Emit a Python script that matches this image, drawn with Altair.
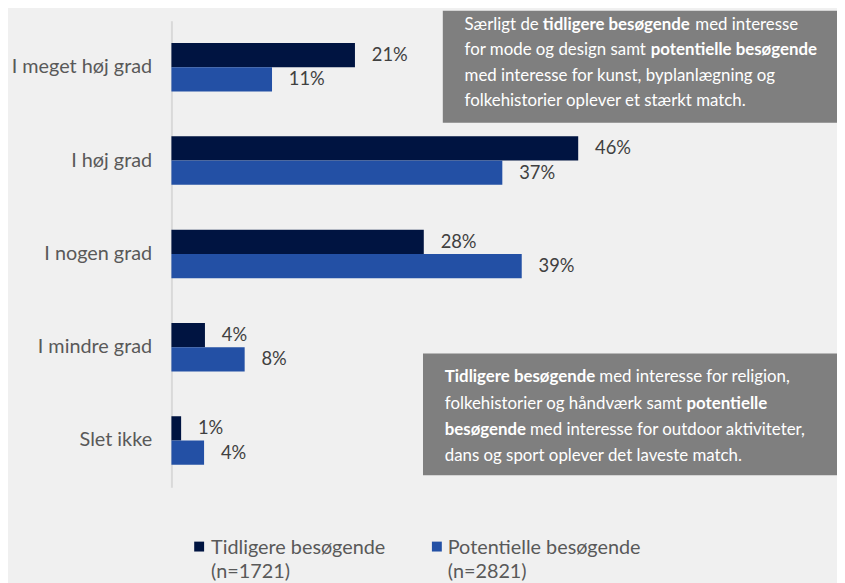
import altair as alt
import pandas as pd

categories = ["I meget høj grad", "I høj grad", "I nogen grad", "I mindre grad", "Slet ikke"]
series = ["Tidligere besøgende", "Potentielle besøgende"]
tidligere = [20.8, 46.1, 28.6, 3.8, 1.1]
potentielle = [11.4, 37.5, 39.7, 8.3, 3.7]
tidligere_labels = ["21%", "46%", "28%", "4%", "1%"]
potentielle_labels = ["11%", "37%", "39%", "8%", "4%"]
legend_n = ["(n=1721)", "(n=2821)"]
colors = ["#001441", "#2350A5"]

rows = []
for i, c in enumerate(categories):
    rows.append({"cat": c, "series": series[0], "value": tidligere[i], "label": tidligere_labels[i]})
    rows.append({"cat": c, "series": series[1], "value": potentielle[i], "label": potentielle_labels[i]})
df = pd.DataFrame(rows)

FONT = "Lato"
W, H = 441, 471
BOXFS = 17

y_enc = alt.Y("cat:N", sort=categories, title=None,
              scale=alt.Scale(paddingInner=0.48, paddingOuter=0.24),
              axis=alt.Axis(labelFont=FONT, labelFontSize=20, labelColor="#595959",
                            labelPadding=20, ticks=False, domainColor="#D9D9D9",
                            domainWidth=2, grid=False))
yoff = alt.YOffset("series:N", sort=series, scale=alt.Scale(paddingInner=0, paddingOuter=0))
x_enc = alt.X("value:Q", scale=alt.Scale(domain=[0, 49.5]), axis=None)
color_enc = alt.Color("series:N", sort=series, scale=alt.Scale(domain=series, range=colors), legend=None)

base = alt.Chart(df)
bars = base.mark_bar().encode(x=x_enc, y=y_enc, yOffset=yoff, color=color_enc)
labels = base.mark_text(align="left", baseline="middle", dx=17, font=FONT, fontSize=18.5,
                        color="#404040").encode(x=x_enc, y=y_enc, yOffset=yoff, text="label:N")

layers = [bars, labels]

# annotation boxes
box_df = pd.DataFrame({"a": [0]})
BOXC = "#7F7F7F"
box1 = alt.Chart(box_df).mark_rect(color=BOXC).encode(
    x=alt.value(274), x2=alt.value(672), y=alt.value(-10), y2=alt.value(103))
box2 = alt.Chart(box_df).mark_rect(color=BOXC).encode(
    x=alt.value(254), x2=alt.value(672), y=alt.value(336), y2=alt.value(459))
layers += [box1, box2]

def seg(text, x, y, bold=False):
    return alt.Chart(pd.DataFrame({"t": [text]})).mark_text(
        align="left", baseline="middle", font=FONT, fontSize=BOXFS,
        fontWeight="bold" if bold else "normal", color="white"
    ).encode(x=alt.value(x), y=alt.value(y), text="t:N")

# box 1 text
layers += [
    seg("Særligt de", 296, 4),
    seg("tidligere besøgende", 375, 4, True),
    seg("med interesse", 529, 4),
    seg("for mode og design samt", 296, 30),
    seg("potentielle besøgende", 484, 30, True),
    seg("med interesse for  kunst, byplanlægning og", 296, 56),
    seg("folkehistorier oplever et stærkt match.", 296, 81),
]
# box 2 text
layers += [
    seg("Tidligere besøgende", 276, 360, True),
    seg("med interesse for religion,", 432, 360),
    seg("folkehistorier og håndværk samt", 276, 387),
    seg("potentielle", 520, 387, True),
    seg("besøgende", 276, 413, True),
    seg("med interesse for outdoor aktiviteter,", 362, 413),
    seg("dans og sport oplever det laveste match.", 276, 440),
]

# custom legend
def leg_sq(i, x):
    return alt.Chart(pd.DataFrame({"series": [series[i]]})).mark_square(size=100, opacity=1).encode(
        x=alt.value(x), y=alt.value(531), color=color_enc)

def leg_txt(text, x, y):
    return alt.Chart(pd.DataFrame({"t": [text]})).mark_text(
        align="left", baseline="middle", font=FONT, fontSize=20, color="#595959"
    ).encode(x=alt.value(x), y=alt.value(y), text="t:N")

layers += [
    leg_sq(0, 28), leg_txt(series[0], 40, 532), leg_txt(legend_n[0], 40, 557),
    leg_sq(1, 268), leg_txt(series[1], 279, 532), leg_txt(legend_n[1], 279, 557),
]

chart = alt.layer(*layers).properties(
    width=W, height=H,
    autosize=alt.AutoSizeParams(type="none"),
    padding={"left": 165, "top": 10, "right": 231, "bottom": 94},
    background="#F0F0F0",
).configure_view(stroke=None)

chart.save("out.html", embed_options={"renderer": "svg", "actions": False})
